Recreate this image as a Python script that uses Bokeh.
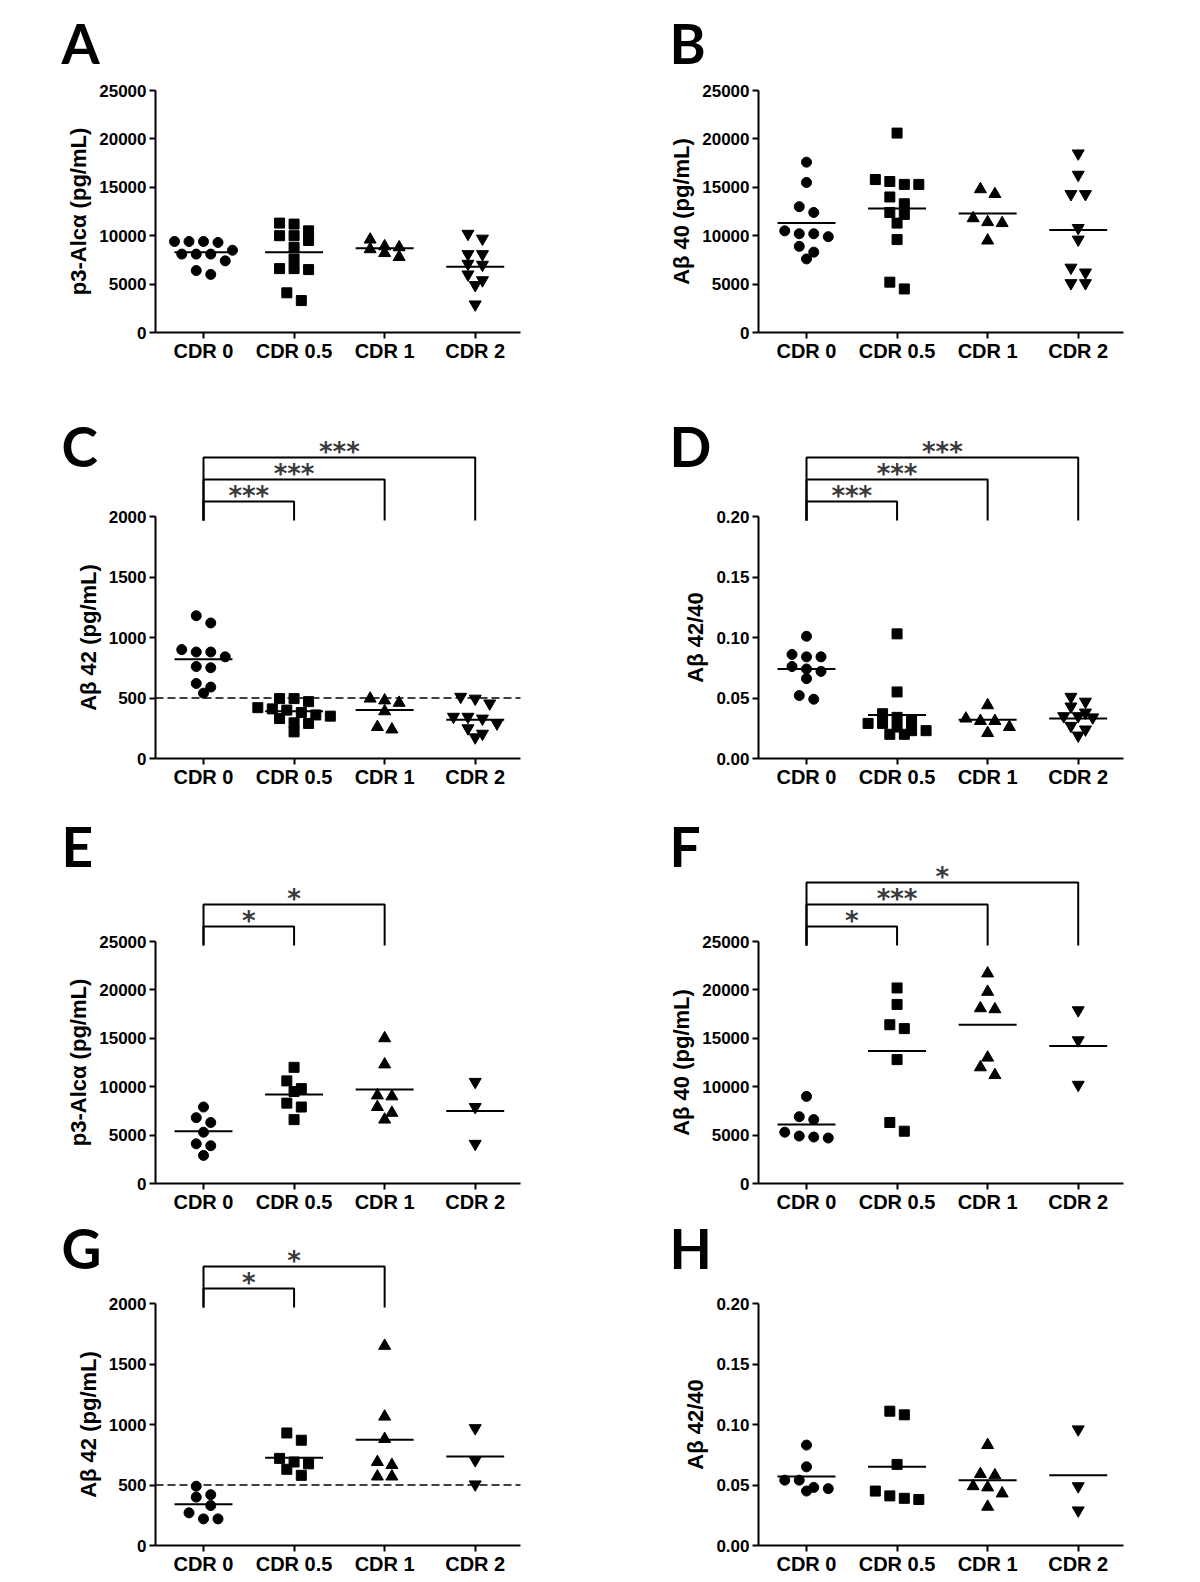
from bokeh.plotting import figure
from bokeh.layouts import column, row
from bokeh.models import FixedTicker, Label, Range1d, NumeralTickFormatter, BasicTickFormatter
from bokeh.embed import file_html
from bokeh.resources import INLINE

# ---------------- data ----------------
categories = ["CDR 0", "CDR 0.5", "CDR 1", "CDR 2"]

# A: p3-Alcα (pg/mL), cohort 1
a_cdr0 = [9400, 9400, 9300, 9400, 8500, 8100, 8100, 8100, 7400, 6000, 6400]
a_cdr05 = [11200, 11300, 10000, 10500, 10000, 9500, 8800, 7600, 6600, 6500, 6600, 4100, 3300]
a_cdr1 = [8800, 9600, 8600, 8200, 7800, 8900]
a_cdr2 = [10200, 9700, 8100, 8100, 7000, 7100, 6000, 5400, 4900, 2900]
a_mean = [8300, 8300, 8700, 6800]

# B: Aβ 40 (pg/mL), cohort 1
b_cdr0 = [17600, 15500, 13000, 12400, 10500, 10200, 9900, 10200, 8900, 8300, 7600]
b_cdr05 = [20600, 15600, 15300, 15300, 15800, 14000, 13300, 12400, 12200, 11300, 9600, 5200, 4500]
b_cdr1 = [14300, 14800, 11400, 11300, 11800, 9500]
b_cdr2 = [18500, 16300, 14300, 14300, 10800, 9600, 6700, 6200, 5100, 5100]
b_mean = [11300, 12800, 12300, 10600]

# C: Aβ 42 (pg/mL), cohort 1
c_cdr0 = [1180, 1120, 900, 880, 880, 840, 760, 750, 620, 590, 540]
c_cdr05 = [495, 470, 495, 420, 410, 400, 380, 350, 360, 330, 295, 290, 220]
c_cdr1 = [495, 460, 480, 390, 240, 260]
c_cdr2 = [495, 510, 455, 345, 345, 330, 290, 250, 205, 175]
c_mean = [820, 390, 400, 320]
c_threshold = 500

# D: Aβ 42/40, cohort 1
d_cdr0 = [0.101, 0.086, 0.084, 0.084, 0.076, 0.074, 0.072, 0.066, 0.049, 0.052]
d_cdr05 = [0.103, 0.055, 0.034, 0.031, 0.037, 0.023, 0.020, 0.020, 0.023, 0.029, 0.029, 0.026]
d_cdr1 = [0.044, 0.031, 0.033, 0.031, 0.021, 0.026]
d_cdr2 = [0.051, 0.047, 0.043, 0.038, 0.034, 0.035, 0.035, 0.024, 0.027, 0.019]
d_mean = [0.074, 0.036, 0.032, 0.033]

# E: p3-Alcα (pg/mL), cohort 2
e_cdr0 = [7900, 6800, 6300, 5300, 4100, 3900, 2900]
e_cdr05 = [12000, 10600, 9500, 9800, 8300, 7900, 6600]
e_cdr1 = [15000, 12300, 9100, 9000, 7900, 7300, 6600]
e_cdr2 = [10500, 7900, 4100]
e_mean = [5400, 9200, 9700, 7500]

# F: Aβ 40 (pg/mL), cohort 2
f_cdr0 = [9000, 6900, 6600, 5300, 4900, 4700, 4800]
f_cdr05 = [20200, 18500, 16000, 16400, 12800, 6300, 5400]
f_cdr1 = [21700, 19800, 18000, 18100, 13000, 12000, 11200]
f_cdr2 = [17900, 14800, 10200]
f_mean = [6100, 13700, 16400, 14200]

# G: Aβ 42 (pg/mL), cohort 2
g_cdr0 = [490, 420, 400, 330, 270, 220, 220]
g_cdr05 = [930, 870, 720, 690, 675, 630, 580]
g_cdr1 = [1650, 1065, 880, 690, 665, 570, 570]
g_cdr2 = [970, 705, 505]
g_mean = [340, 725, 875, 735]
g_threshold = 500

# H: Aβ 42/40, cohort 2
h_cdr0 = [0.083, 0.065, 0.054, 0.054, 0.048, 0.047, 0.045]
h_cdr05 = [0.108, 0.111, 0.067, 0.041, 0.038, 0.039, 0.045]
h_cdr1 = [0.083, 0.059, 0.058, 0.049, 0.048, 0.043, 0.032]
h_cdr2 = [0.096, 0.049, 0.029]
h_mean = [0.057, 0.065, 0.054, 0.058]

# significance brackets: (from group, to group, label)
c_comparisons = [(0, 1, "***"), (0, 2, "***"), (0, 3, "***")]
d_comparisons = [(0, 1, "***"), (0, 2, "***"), (0, 3, "***")]
e_comparisons = [(0, 1, "*"), (0, 2, "*")]
f_comparisons = [(0, 1, "*"), (0, 2, "***"), (0, 3, "*")]
g_comparisons = [(0, 1, "*"), (0, 2, "*")]

conc_ticks = [0, 5000, 10000, 15000, 20000, 25000]
ab42_ticks = [0, 500, 1000, 1500, 2000]
ratio_ticks = [0.0, 0.05, 0.10, 0.15, 0.20]

# ---------------- layout constants (page pixels) ----------------
FONT = "Liberation Sans"
LETTER_FONT = "Lato"
X0, X1 = -0.53, 3.5
FRAME_W = 365
PX_PER_CAT = FRAME_W / (X1 - X0)
AXIS_PX = 242
FIG_W = 600
COL_LEFT = {"left": 0, "right": 600}
AXIS_LEFT = {"left": 155, "right": 758}
LETTER_X = {"left": 61, "right": 669}
# (page top, figure height, page y of value 0, letter centre page y)
ROWS = [(0, 400, 332, 43), (400, 400, 758, 446), (800, 413, 1183, 846), (1213, 367, 1545, 1248)]

MARKERS = ["circle", "square", "triangle", "inverted_triangle"]
SIZES = [10, 10, 12, 12]


def swarm(vals, px_per_unit, step_px=14.5, thresh_px=9):
    order = sorted(range(len(vals)), key=lambda i: -vals[i])
    rows = []
    for i in order:
        if rows and (vals[rows[-1][0]] - vals[i]) * px_per_unit < thresh_px:
            rows[-1].append(i)
        else:
            rows.append([i])
    offs = [0.0] * len(vals)
    for r in rows:
        n = len(r)
        for k, i in enumerate(r):
            offs[i] = (k - (n - 1) / 2) * step_px / PX_PER_CAT
    return offs


def panel(letter, col, rowi, ylabel, groups, means, top, ticks, fmt,
          comps=(), threshold=None):
    top_page, h, zero_px, letter_y = ROWS[rowi]
    upp = top / AXIS_PX

    def yd(py):
        return (zero_px - py) * upp

    def xd(px):
        return X0 + (px - AXIS_LEFT[col]) / PX_PER_CAT

    p = figure(width=FIG_W, height=h, title=None,
               x_range=Range1d(xd(COL_LEFT[col]), xd(COL_LEFT[col] + FIG_W)),
               y_range=Range1d(yd(top_page + h), yd(top_page)),
               output_backend="svg", toolbar_location=None,
               min_border_left=0, min_border_right=0, min_border_top=0, min_border_bottom=0)
    p.outline_line_color = None
    p.grid.visible = False
    p.background_fill_color = "white"
    p.border_fill_color = "white"

    if threshold is not None:
        p.line([X0, X1], [threshold, threshold], line_dash="8 4", line_width=1.6, color="black")

    for i, vals in enumerate(groups):
        offs = swarm(vals, AXIS_PX / top)
        p.scatter([i + o for o in offs], vals, marker=MARKERS[i], size=SIZES[i],
                  fill_color="black", line_color="black")
    p.segment(x0=[i - 0.32 for i in range(4)], y0=means, x1=[i + 0.32 for i in range(4)],
              y1=means, line_width=2, color="black")

    for k, (a, b, stars) in enumerate(comps):
        lvl_px = zero_px - AXIS_PX - 15 - 22 * k
        level = yd(lvl_px)
        bottom = yd(zero_px - AXIS_PX + 4)
        p.line([a, a, b, b], [bottom, level, level, bottom], line_width=2, color="black")
        p.add_layout(Label(x=(a + b) / 2, y=yd(lvl_px - 6), text=stars,
                           text_align="center", text_baseline="middle",
                           text_font="DejaVu Sans", text_font_style="bold",
                           text_font_size="26px", text_color="#3a3a3a"))

    p.add_layout(Label(x=xd(LETTER_X[col]), y=yd(letter_y - 1), text=letter,
                       text_align="left", text_baseline="middle",
                       text_font=LETTER_FONT, text_font_style="bold",
                       text_font_size="55px", text_color="black"))

    xa = p.xaxis[0]
    xa.fixed_location = 0
    xa.bounds = (X0, X1)
    xa.ticker = FixedTicker(ticks=list(range(len(categories))))
    xa.major_label_overrides = {i: c for i, c in enumerate(categories)}
    ya = p.yaxis[0]
    ya.fixed_location = X0
    ya.ticker = FixedTicker(ticks=ticks)
    ya.formatter = fmt
    ya.bounds = (0, top)
    ya.axis_label = ylabel
    for ax in (xa, ya):
        ax.axis_line_width = 2
        ax.major_tick_line_width = 2
        ax.major_tick_out = 6
        ax.major_tick_in = 0
        ax.minor_tick_out = 0
        ax.minor_tick_in = 0
        ax.major_label_text_font = FONT
        ax.major_label_text_font_style = "bold"
        ax.major_label_text_color = "black"
        ax.axis_line_color = "black"
        ax.major_tick_line_color = "black"
    xa.major_label_text_font_size = "20px"
    xa.major_label_standoff = 1
    ya.major_label_text_font_size = "17px"
    ya.major_label_standoff = 3
    ya.axis_label_text_font = FONT
    ya.axis_label_text_font_style = "bold"
    ya.axis_label_text_font_size = "22px"
    ya.axis_label_standoff = 5
    ya.axis_label_text_color = "black"
    return p


conc_fmt = lambda: BasicTickFormatter(use_scientific=False)
ratio_fmt = lambda: NumeralTickFormatter(format="0.00")

pA = panel("A", "left", 0, "p3-Alcα (pg/mL)", [a_cdr0, a_cdr05, a_cdr1, a_cdr2], a_mean,
           25000, conc_ticks, conc_fmt())
pB = panel("B", "right", 0, "Aβ 40 (pg/mL)", [b_cdr0, b_cdr05, b_cdr1, b_cdr2], b_mean,
           25000, conc_ticks, conc_fmt())
pC = panel("C", "left", 1, "Aβ 42 (pg/mL)", [c_cdr0, c_cdr05, c_cdr1, c_cdr2], c_mean,
           2000, ab42_ticks, conc_fmt(), c_comparisons, c_threshold)
pD = panel("D", "right", 1, "Aβ 42/40", [d_cdr0, d_cdr05, d_cdr1, d_cdr2], d_mean,
           0.20, ratio_ticks, ratio_fmt(), d_comparisons)
pE = panel("E", "left", 2, "p3-Alcα (pg/mL)", [e_cdr0, e_cdr05, e_cdr1, e_cdr2], e_mean,
           25000, conc_ticks, conc_fmt(), e_comparisons)
pF = panel("F", "right", 2, "Aβ 40 (pg/mL)", [f_cdr0, f_cdr05, f_cdr1, f_cdr2], f_mean,
           25000, conc_ticks, conc_fmt(), f_comparisons)
pG = panel("G", "left", 3, "Aβ 42 (pg/mL)", [g_cdr0, g_cdr05, g_cdr1, g_cdr2], g_mean,
           2000, ab42_ticks, conc_fmt(), g_comparisons, g_threshold)
pH = panel("H", "right", 3, "Aβ 42/40", [h_cdr0, h_cdr05, h_cdr1, h_cdr2], h_mean,
           0.20, ratio_ticks, ratio_fmt())

layout = column(row(pA, pB), row(pC, pD), row(pE, pF), row(pG, pH))

with open("out.html", "w") as fh:
    fh.write(file_html(layout, INLINE))
